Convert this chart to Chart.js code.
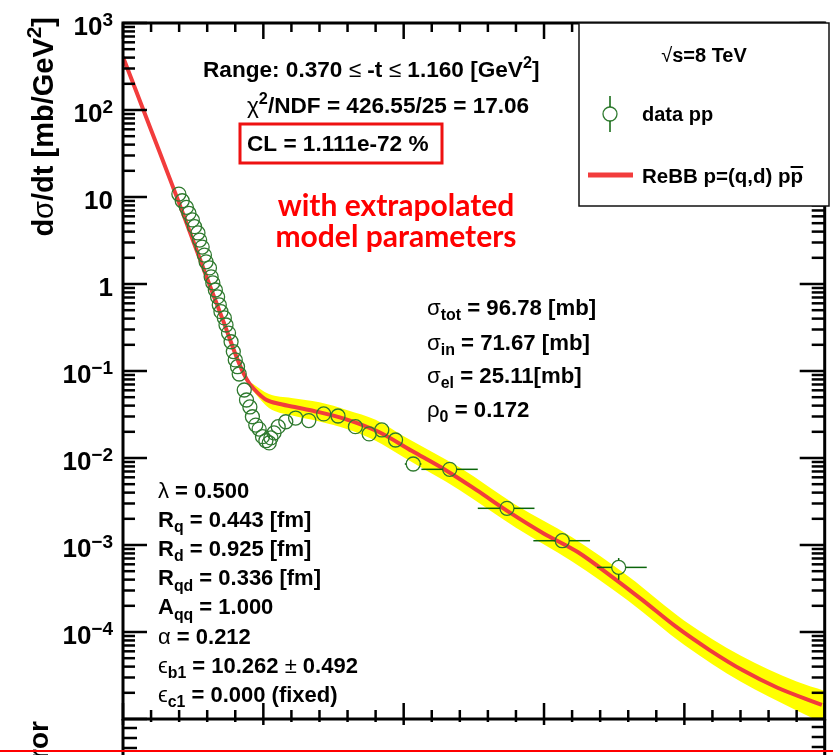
<!DOCTYPE html>
<html>
<head>
<meta charset="utf-8">
<title>ReBB fit, sqrt(s)=8 TeV</title>
<script src="https://cdn.jsdelivr.net/npm/chart.js@4.4.1/dist/chart.umd.min.js"></script>
<style>
  html, body { margin: 0; padding: 0; background: #fff; }
  #wrap { width: 833px; height: 755px; position: relative; }
</style>
</head>
<body>
<div id="wrap"><canvas id="xsec"></canvas></div>
<script>
// measured dsigma/dt, pp at 8 TeV  (-t in GeV^2, dsigma/dt in mb/GeV^2)
const dataT = [0.199, 0.211, 0.226, 0.235, 0.247, 0.255, 0.267, 0.273, 0.282, 0.290,
               0.296, 0.308, 0.314, 0.320, 0.329, 0.337, 0.343, 0.349, 0.361, 0.367,
               0.376, 0.385, 0.393, 0.400, 0.408, 0.414, 0.432, 0.440, 0.452, 0.461,
               0.473, 0.485, 0.497, 0.509, 0.521, 0.527, 0.538, 0.553, 0.580, 0.615,
               0.662, 0.715, 0.766, 0.828, 0.877, 0.922, 0.971, 1.034, 1.164, 1.368,
               1.565, 1.766];
const dataSig = [10.8, 9.06, 7.6, 6.5, 5.45, 4.56, 3.86, 3.2, 2.66, 2.15,
                 1.80, 1.53, 1.21, 1.03, 0.853, 0.71, 0.574, 0.481, 0.407, 0.338,
                 0.273, 0.217, 0.167, 0.134, 0.112, 0.0924, 0.0605, 0.0464, 0.0386, 0.0298,
                 0.0239, 0.0215, 0.0176, 0.0158, 0.0149, 0.0170, 0.0194, 0.0229, 0.0261, 0.0288,
                 0.0269, 0.0321, 0.0304, 0.0229, 0.0189, 0.0210, 0.0161, 0.00853, 0.00741, 0.00264,
                 0.00112, 0.000553];

// error bars that stick out of the markers
const errIdx   = [47, 48, 49, 50, 51];
const errTLo   = [1.004, 1.063, 1.264, 1.462, 1.689];
const errTHi   = [1.063, 1.264, 1.466, 1.664, 1.866];
const errSigLo = [0.0080, 0.0070, 0.00248, 0.00104, 0.000398];
const errSigHi = [0.0091, 0.0078, 0.00280, 0.00120, 0.000708];

// ReBB model curve
const modelT = [0, 0.10, 0.20, 0.30, 0.36, 0.40, 0.43, 0.45, 0.48, 0.51,
                0.56, 0.62, 0.68, 0.79, 0.91, 1.03, 1.15, 1.26, 1.38, 1.50,
                1.62, 1.74, 1.85, 1.97, 2.09, 2.21, 2.33, 2.49];
const modelSig = [407, 59, 8.5, 1.15, 0.355, 0.158, 0.093, 0.072, 0.056, 0.0468,
                  0.0417, 0.038, 0.0347, 0.0282, 0.020, 0.0120, 0.00724, 0.00427, 0.00234, 0.00135,
                  0.00083, 0.000437, 0.000234, 0.000115, 6.2e-5, 3.6e-5, 2.3e-5, 1.45e-5];

// model uncertainty band
const bandT    = [0.46, 0.52, 0.60, 0.70, 0.80, 0.90, 1.00, 1.20, 1.40, 1.60, 1.80, 2.00, 2.20, 2.40, 2.50];
const bandHigh = [0.0724, 0.0543, 0.0490, 0.0437, 0.0355, 0.0275, 0.0178, 0.00776, 0.00288, 0.00123,
                  0.000437, 0.000135, 5.37e-5, 2.69e-5, 2.10e-5];
const bandLow  = [0.0603, 0.0376, 0.0309, 0.0263, 0.0214, 0.0158, 0.0102, 0.00427, 0.00158, 0.000646,
                  0.000229, 7.08e-5, 2.69e-5, 1.25e-5, 8.8e-6];

// y axis labels
const yTickVals = [1e3, 1e2, 1e1, 1, 1e-1, 1e-2, 1e-3, 1e-4];
const yTickBase = ['10', '10', '10', '1', '10', '10', '10', '10'];
const yTickExp  = ['3', '2', '', '', '\u22121', '\u22122', '\u22123', '\u22124'];

// text blocks: [text, kind]  kind: g = greek (thin), sub, sup
const fitInfo = [
  [['Range: 0.370 '], ['\u2264', 'g'], [' -t '], ['\u2264', 'g'], [' 1.160 [GeV'], ['2', 'sup'], [']']],
  [['\u03c7', 'g'], ['2', 'sup'], ['/NDF = 426.55/25 = 17.06']],
  [['CL = 1.111e-72 %']]
];
const sigmaInfo = [
  [['\u03c3', 'g'], ['tot', 'sub'], [' = 96.78 [mb]']],
  [['\u03c3', 'g'], ['in', 'sub'], [' = 71.67 [mb]']],
  [['\u03c3', 'g'], ['el', 'sub'], [' = 25.11[mb]']],
  [['\u03c1', 'g'], ['0', 'sub'], [' = 0.172']]
];
const paramInfo = [
  [['\u03bb', 'g'], [' = 0.500']],
  [['R'], ['q', 'sub'], [' = 0.443 [fm]']],
  [['R'], ['d', 'sub'], [' = 0.925 [fm]']],
  [['R'], ['qd', 'sub'], [' = 0.336 [fm]']],
  [['A'], ['qq', 'sub'], [' = 1.000']],
  [['\u03b1', 'g'], [' = 0.212']],
  [['\u03f5', 'g'], ['b1', 'sub'], [' = 10.262 '], ['\u00b1', 'g'], [' 0.492']],
  [['\u03f5', 'g'], ['c1', 'sub'], [' = 0.000 (fixed)']]
];
const noteLines = ['with extrapolated', 'model parameters'];

const GREEN = '#2f7a2f';
const BAR_GREEN = '#0b650b';
const RED = '#f23c3c';
const FONT = '"Liberation Sans", Arial, sans-serif';

function drawParts(ctx, parts, x, y, size, align, color) {
  const items = parts.map(p => {
    const kind = p[1] || '';
    let fs = size, dy = 0;
    if (kind.indexOf('sub') >= 0) { fs = size * 0.72; dy = size * 0.24; }
    if (kind.indexOf('sup') >= 0) { fs = size * 0.72; dy = -size * 0.42; }
    const weight = kind.indexOf('g') === 0 ? 'normal' : 'bold';
    const font = weight + ' ' + fs + 'px ' + FONT;
    ctx.font = font;
    return { t: p[0], font: font, dy: dy, w: ctx.measureText(p[0]).width };
  });
  const total = items.reduce((s, it) => s + it.w, 0);
  let cx = x;
  if (align === 'center') cx = x - total / 2;
  if (align === 'right') cx = x - total;
  ctx.fillStyle = color || '#000';
  ctx.textAlign = 'left';
  ctx.textBaseline = 'alphabetic';
  items.forEach(it => {
    ctx.font = it.font;
    ctx.fillText(it.t, cx, y + it.dy);
    cx += it.w;
  });
  return total;
}

function line(ctx, x1, y1, x2, y2) {
  ctx.beginPath();
  ctx.moveTo(x1, y1);
  ctx.lineTo(x2, y2);
  ctx.stroke();
}

// horizontal / vertical error bars, kept outside the circle
const errorBars = {
  id: 'errorBars',
  afterDatasetsDraw(chart) {
    const ctx = chart.ctx, xs = chart.scales.x, ys = chart.scales.y;
    const r = 7;
    ctx.save();
    ctx.strokeStyle = BAR_GREEN;
    ctx.lineWidth = 1.5;
    errIdx.forEach((k, i) => {
      const px = xs.getPixelForValue(dataT[k]);
      const py = ys.getPixelForValue(dataSig[k]);
      const xl = xs.getPixelForValue(errTLo[i]);
      const xh = xs.getPixelForValue(errTHi[i]);
      const yl = ys.getPixelForValue(errSigLo[i]);
      const yh = ys.getPixelForValue(errSigHi[i]);
      if (px - xl > r) line(ctx, xl, py, px - r, py);
      if (xh - px > r) line(ctx, px + r, py, xh, py);
      if (yl - py > r) line(ctx, px, py + r, px, yl);
      if (py - yh > r) line(ctx, px, yh, px, py - r);
    });
    ctx.restore();
  }
};

// ROOT style frame, ticks, labels, text boxes and legend
const rootFrame = {
  id: 'rootFrame',
  afterDraw(chart) {
    const ctx = chart.ctx, xs = chart.scales.x, ys = chart.scales.y, a = chart.chartArea;
    ctx.save();

    // ticks
    ctx.strokeStyle = '#000';
    ctx.lineWidth = 2.5;
    for (let k = 0; k <= 25; k++) {
      const px = xs.getPixelForValue(k / 10);
      const major = k % 5 === 0;
      line(ctx, px, a.top, px, a.top + (major ? 16 : 9));
      line(ctx, px, a.bottom - (major ? 16 : 9), px, a.bottom + (major ? 6 : 3));
    }
    for (let e = -5; e <= 3; e++) {
      for (let m = 1; m <= 9; m++) {
        if (e === 3 && m > 1) break;
        const py = ys.getPixelForValue(m * Math.pow(10, e));
        const major = m === 1;
        line(ctx, a.left, py, a.left + (major ? 24 : 12), py);
        line(ctx, a.right, py, a.right - (major ? 25 : 13), py);
      }
    }
    // lower pad ticks
    [728, 738, 748].forEach(py => {
      line(ctx, a.left, py, a.left + 14, py);
      line(ctx, a.right, py - 1, a.right - 13, py - 1);
    });

    // frame
    ctx.lineWidth = 3;
    ctx.strokeRect(a.left, a.top, a.right - a.left, a.bottom - a.top);
    line(ctx, a.left, a.bottom, a.left, 755);
    line(ctx, a.right, a.bottom, a.right, 755);

    // y tick labels
    yTickVals.forEach((v, i) => {
      const py = ys.getPixelForValue(v);
      ctx.font = 'bold 26px ' + FONT;
      const wb = ctx.measureText(yTickBase[i]).width;
      ctx.font = 'bold 19px ' + FONT;
      const we = ctx.measureText(yTickExp[i]).width;
      const x0 = 113 - wb - we;
      ctx.fillStyle = '#000';
      ctx.textAlign = 'left';
      ctx.font = 'bold 26px ' + FONT;
      ctx.fillText(yTickBase[i], x0, py + 12);
      if (yTickExp[i]) {
        ctx.font = 'bold 19px ' + FONT;
        ctx.fillText(yTickExp[i], x0 + wb, py + 3);
      }
    });

    // y axis title
    ctx.save();
    ctx.translate(53, 17);
    ctx.rotate(-Math.PI / 2);
    drawParts(ctx, [['d'], ['\u03c3', 'g'], ['/dt [mb/GeV'], ['2', 'sup'], [']']], 0, 0, 29, 'right');
    ctx.restore();
    ctx.save();
    ctx.translate(48, 721);
    ctx.rotate(-Math.PI / 2);
    drawParts(ctx, [['Error']], 0, 0, 28, 'right');
    ctx.restore();

    // fit info
    drawParts(ctx, fitInfo[0], 203, 77, 22.6, 'left');
    drawParts(ctx, fitInfo[1], 247, 113, 22.6, 'left');
    drawParts(ctx, fitInfo[2], 247, 151, 22.6, 'left');
    ctx.strokeStyle = '#ee1111';
    ctx.lineWidth = 3;
    ctx.strokeRect(240, 124, 202, 39);

    // red note
    ctx.fillStyle = '#ff0000';
    ctx.font = 'bold 30px Lato, ' + FONT;
    ctx.textAlign = 'center';
    ctx.fillText(noteLines[0], 396, 216);
    ctx.fillText(noteLines[1], 396, 247);

    // cross sections
    const sigY = [315, 350, 383, 417];
    sigmaInfo.forEach((p, i) => drawParts(ctx, p, 427, sigY[i], 22.2, 'left'));
    // model parameters
    paramInfo.forEach((p, i) => drawParts(ctx, p, 158, 498 + i * 29.1, 22, 'left'));

    // legend
    ctx.fillStyle = '#fff';
    ctx.fillRect(579, 23, 250, 183);
    ctx.strokeStyle = '#111';
    ctx.lineWidth = 1.5;
    ctx.strokeRect(579, 23, 250, 183);
    drawParts(ctx, [['\u221a', 'g'], ['s=8 TeV']], 704, 62, 20, 'center');
    ctx.strokeStyle = GREEN;
    ctx.lineWidth = 1.3;
    ctx.beginPath();
    ctx.arc(610, 114, 7, 0, 2 * Math.PI);
    ctx.stroke();
    ctx.strokeStyle = BAR_GREEN;
    ctx.lineWidth = 1.5;
    line(ctx, 610, 96, 610, 107);
    line(ctx, 610, 121, 610, 132);
    drawParts(ctx, [['data pp']], 642, 121, 20, 'left');
    ctx.strokeStyle = RED;
    ctx.lineWidth = 5;
    line(ctx, 588, 175, 633, 175);
    const wt = drawParts(ctx, [['ReBB p=(q,d) pp']], 642, 183, 20.5, 'left');
    ctx.font = 'bold 20.5px ' + FONT;
    const wp = ctx.measureText('p').width;
    ctx.strokeStyle = '#000';
    ctx.lineWidth = 2;
    line(ctx, 642 + wt - wp, 167, 642 + wt, 167);

    // separator
    ctx.strokeStyle = '#ff0000';
    ctx.lineWidth = 2;
    line(ctx, 0, 751, 833, 751);

    ctx.restore();
  }
};

const ctx = document.getElementById('xsec').getContext('2d');
new Chart(ctx, {
  type: 'line',
  data: {
    datasets: [
      {
        type: 'scatter',
        label: 'data pp',
        data: dataT.map((t, i) => ({ x: t, y: dataSig[i] })),
        pointStyle: 'circle',
        pointRadius: 7,
        pointBorderWidth: 1.3,
        borderColor: GREEN,
        backgroundColor: 'rgba(0,0,0,0)',
        order: 0
      },
      {
        label: 'ReBB p=(q,d)',
        data: modelT.map((t, i) => ({ x: t, y: modelSig[i] })),
        borderColor: RED,
        borderWidth: 4,
        pointRadius: 0,
        cubicInterpolationMode: 'monotone',
        fill: false,
        order: 1
      },
      {
        label: 'band high',
        data: bandT.map((t, i) => ({ x: t, y: bandHigh[i] })),
        borderWidth: 0,
        borderColor: 'rgba(0,0,0,0)',
        backgroundColor: '#ffff00',
        pointRadius: 0,
        cubicInterpolationMode: 'monotone',
        fill: '+1',
        order: 2
      },
      {
        label: 'band low',
        data: bandT.map((t, i) => ({ x: t, y: bandLow[i] })),
        borderWidth: 0,
        borderColor: 'rgba(0,0,0,0)',
        pointRadius: 0,
        cubicInterpolationMode: 'monotone',
        fill: false,
        order: 2
      }
    ]
  },
  options: {
    responsive: true,
    maintainAspectRatio: false,
    animation: false,
    layout: { padding: { left: 123, top: 23, right: 3, bottom: 36 } },
    scales: {
      x: { type: 'linear', min: 0, max: 2.5, display: false },
      y: { type: 'logarithmic', min: 1e-5, max: 1e3, display: false }
    },
    plugins: {
      legend: { display: false },
      tooltip: { enabled: false }
    }
  },
  plugins: [errorBars, rootFrame]
});
</script>
</body>
</html>
